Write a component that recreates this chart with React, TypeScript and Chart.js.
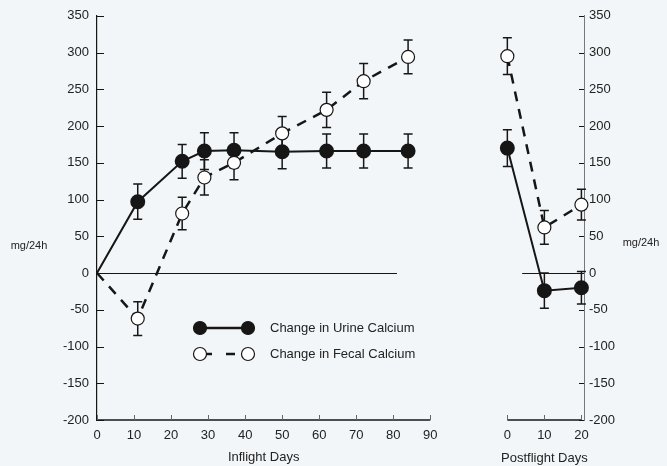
import React, { useEffect, useRef } from "react";
import { Chart, registerables } from "chart.js";

Chart.register(...registerables);

// ---- data ----
const INFLIGHT_DAYS = [0, 11, 23, 29, 37, 50, 62, 72, 84];
const URINE_INFLIGHT = [0, 97, 152, 166, 167, 165, 166, 166, 166];
const URINE_INFLIGHT_ERR = [0, 24, 23, 25, 24, 23, 23, 23, 23];
const FECAL_INFLIGHT = [0, -62, 81, 130, 150, 190, 222, 261, 294];
const FECAL_INFLIGHT_ERR = [0, 23, 22, 24, 23, 23, 24, 24, 23];

const POSTFLIGHT_DAYS = [0, 10, 20];
const URINE_POSTFLIGHT = [170, -24, -20];
const URINE_POSTFLIGHT_ERR = [25, 24, 22];
const FECAL_POSTFLIGHT = [295, 62, 93];
const FECAL_POSTFLIGHT_ERR = [25, 23, 21];

const INFLIGHT_TICKS = [0, 10, 20, 30, 40, 50, 60, 70, 80, 90];
const POSTFLIGHT_TICKS = [0, 10, 20];
const Y_MIN = -200;
const Y_MAX = 350;
const Y_STEP = 50;

const ZERO_LINE_INFLIGHT = [0, 81];
const ZERO_LINE_POSTFLIGHT = [4, 20];

const LEGEND_LABELS = ["Change in Urine Calcium", "Change in Fecal Calcium"];
const X_TITLES = ["Inflight Days", "Postflight Days"];
const Y_TITLE = "mg/24h";

// ---- layout constants ----
const W = 667;
const H = 466;
const POST_OFFSET = 110.8;
const X_MAX = 131.5;
const INK = "#161616";
const TEXT = "#222222";
const BG = "#f3f6f8";
const FONT = "'Liberation Sans', Arial, Helvetica, sans-serif";

const pts = (xs: number[], ys: number[], off = 0) =>
  xs.map((d, i) => ({ x: d + off, y: ys[i] }));

const decorPlugin = {
  id: "decor",
  beforeDatasetsDraw(chart: any) {
    const ctx = chart.ctx;
    const xs = chart.scales.x;
    const ys = chart.scales.y;
    const { left, right, bottom } = chart.chartArea;
    ctx.save();
    ctx.strokeStyle = INK;
    ctx.lineCap = "butt";

    // zero reference lines
    ctx.lineWidth = 1;
    const y0 = Math.round(ys.getPixelForValue(0)) + 0.5;
    const segs = [
      [ZERO_LINE_INFLIGHT[0], ZERO_LINE_INFLIGHT[1]],
      [POST_OFFSET + ZERO_LINE_POSTFLIGHT[0], POST_OFFSET + ZERO_LINE_POSTFLIGHT[1]],
    ];
    segs.forEach(([a, b]) => {
      ctx.beginPath();
      ctx.moveTo(xs.getPixelForValue(a), y0);
      ctx.lineTo(xs.getPixelForValue(b), y0);
      ctx.stroke();
    });

    // bottom axis segments
    ctx.lineWidth = 1.5;
    const axSegs = [
      [INFLIGHT_TICKS[0], INFLIGHT_TICKS[INFLIGHT_TICKS.length - 1]],
      [POST_OFFSET + POSTFLIGHT_TICKS[0], POST_OFFSET + POSTFLIGHT_TICKS[POSTFLIGHT_TICKS.length - 1]],
    ];
    axSegs.forEach(([a, b]) => {
      ctx.beginPath();
      ctx.moveTo(xs.getPixelForValue(a), bottom);
      ctx.lineTo(xs.getPixelForValue(b), bottom);
      ctx.stroke();
    });
    // x tick marks (inward)
    ctx.lineWidth = 1;
    ctx.strokeStyle = "#666";
    const xt = [...INFLIGHT_TICKS, ...POSTFLIGHT_TICKS.map((d) => d + POST_OFFSET)];
    xt.forEach((v) => {
      const px = Math.round(xs.getPixelForValue(v)) + 0.5;
      ctx.beginPath();
      ctx.moveTo(px, bottom);
      ctx.lineTo(px, bottom - 5);
      ctx.stroke();
    });

    // y tick marks
    ctx.strokeStyle = INK;
    for (let v = Y_MIN; v <= Y_MAX; v += Y_STEP) {
      const py = Math.round(ys.getPixelForValue(v)) + 0.5;
      ctx.beginPath();
      ctx.moveTo(left, py);
      ctx.lineTo(left + 7, py);
      ctx.stroke();
      ctx.beginPath();
      ctx.moveTo(right - 5, py);
      ctx.lineTo(right, py);
      ctx.stroke();
    }

    // error bars
    ctx.lineWidth = 1.5;
    ctx.strokeStyle = INK;
    chart.data.datasets.forEach((ds: any, di: number) => {
      const meta = chart.getDatasetMeta(di);
      const errs: number[] = ds.errors || [];
      meta.data.forEach((el: any, i: number) => {
        const e = errs[i];
        if (!e) return;
        const v = ds.data[i].y;
        const yt = ys.getPixelForValue(v + e);
        const yb = ys.getPixelForValue(v - e);
        const px = el.x;
        ctx.beginPath();
        ctx.moveTo(px, yt);
        ctx.lineTo(px, yb);
        ctx.moveTo(px - 4.5, yt);
        ctx.lineTo(px + 4.5, yt);
        ctx.moveTo(px - 4.5, yb);
        ctx.lineTo(px + 4.5, yb);
        ctx.stroke();
      });
    });
    ctx.restore();
  },
  afterDraw(chart: any) {
    const ctx = chart.ctx;
    const xs = chart.scales.x;
    ctx.save();
    // legend
    const rows = [
      { y: 328, dash: [] as number[], fill: INK },
      { y: 354, dash: [9, 14], fill: "#ffffff" },
    ];
    rows.forEach((r, i) => {
      ctx.strokeStyle = INK;
      ctx.lineWidth = 2.5;
      ctx.setLineDash(r.dash);
      ctx.beginPath();
      ctx.moveTo(203, r.y);
      ctx.lineTo(246, r.y);
      ctx.stroke();
      ctx.setLineDash([]);
      [200, 248].forEach((cx) => {
        ctx.beginPath();
        ctx.arc(cx, r.y, 6.5, 0, Math.PI * 2);
        ctx.fillStyle = r.fill;
        ctx.fill();
        ctx.lineWidth = 1.2;
        ctx.stroke();
      });
      ctx.fillStyle = TEXT;
      ctx.font = `13px ${FONT}`;
      ctx.textAlign = "left";
      ctx.textBaseline = "middle";
      ctx.fillText(LEGEND_LABELS[i], 270, r.y);
    });
    // x titles
    ctx.font = `13px ${FONT}`;
    ctx.textAlign = "center";
    ctx.fillText(X_TITLES[0], xs.getPixelForValue((INFLIGHT_TICKS[0] + INFLIGHT_TICKS[INFLIGHT_TICKS.length - 1]) / 2), 457);
    ctx.fillText(X_TITLES[1], xs.getPixelForValue(POST_OFFSET + (POSTFLIGHT_TICKS[0] + POSTFLIGHT_TICKS[POSTFLIGHT_TICKS.length - 1]) / 2), 458);
    // y titles
    ctx.font = `11px ${FONT}`;
    ctx.fillText(Y_TITLE, 29, 246);
    ctx.fillText(Y_TITLE, 641, 243);
    ctx.restore();
  },
};

export default function App() {
  const ref = useRef<HTMLCanvasElement | null>(null);
  useEffect(() => {
    if (!ref.current) return;
    const noFirst = (c: any) => (c.dataIndex === 0 ? 0 : 6.5);
    const chart = new Chart(ref.current, {
      type: "scatter",
      data: {
        datasets: [
          {
            label: LEGEND_LABELS[1],
            data: pts(INFLIGHT_DAYS, FECAL_INFLIGHT),
            errors: FECAL_INFLIGHT_ERR,
            showLine: true,
            clip: false,
            borderColor: INK,
            borderWidth: 2.5,
            borderDash: [10, 8],
            pointRadius: noFirst,
            pointBackgroundColor: "#ffffff",
            pointBorderColor: INK,
            pointBorderWidth: 1.2,
          } as any,
          {
            label: LEGEND_LABELS[1],
            data: pts(POSTFLIGHT_DAYS, FECAL_POSTFLIGHT, POST_OFFSET),
            errors: FECAL_POSTFLIGHT_ERR,
            showLine: true,
            clip: false,
            borderColor: INK,
            borderWidth: 2.5,
            borderDash: [10, 8],
            pointRadius: 6.5,
            pointBackgroundColor: "#ffffff",
            pointBorderColor: INK,
            pointBorderWidth: 1.2,
          } as any,
          {
            label: LEGEND_LABELS[0],
            data: pts(INFLIGHT_DAYS, URINE_INFLIGHT),
            errors: URINE_INFLIGHT_ERR,
            showLine: true,
            clip: false,
            borderColor: INK,
            borderWidth: 2,
            pointRadius: noFirst,
            pointBackgroundColor: INK,
            pointBorderColor: INK,
          } as any,
          {
            label: LEGEND_LABELS[0],
            data: pts(POSTFLIGHT_DAYS, URINE_POSTFLIGHT, POST_OFFSET),
            errors: URINE_POSTFLIGHT_ERR,
            showLine: true,
            clip: false,
            borderColor: INK,
            borderWidth: 2,
            pointRadius: 6.5,
            pointBackgroundColor: INK,
            pointBorderColor: INK,
          } as any,
        ],
      },
      options: {
        responsive: false,
        animation: false,
        devicePixelRatio: 1,
        layout: { padding: { top: 10, left: 0, right: 0, bottom: 0 } },
        plugins: { legend: { display: false }, tooltip: { enabled: false } },
        scales: {
          x: {
            type: "linear",
            min: 0,
            max: X_MAX,
            grid: { display: false, drawTicks: false },
            border: { display: false },
            afterBuildTicks: (s: any) => {
              s.ticks = [
                ...INFLIGHT_TICKS.map((v) => ({ value: v })),
                ...POSTFLIGHT_TICKS.map((v) => ({ value: v + POST_OFFSET })),
              ];
            },
            afterFit: (s: any) => {
              s.height = 46;
            },
            ticks: {
              autoSkip: false,
              maxRotation: 0,
              padding: 8,
              color: TEXT,
              font: { family: FONT, size: 13 },
              callback: (v: any) => {
                const n = Number(v);
                return n > INFLIGHT_TICKS[INFLIGHT_TICKS.length - 1] + 1
                  ? String(Math.round(n - POST_OFFSET))
                  : String(Math.round(n));
              },
            },
          },
          y: {
            type: "linear",
            position: "left",
            min: Y_MIN,
            max: Y_MAX,
            grid: { display: false, drawTicks: false },
            border: { display: true, color: INK, width: 1.2 },
            afterFit: (s: any) => {
              s.width = 97;
            },
            ticks: {
              stepSize: Y_STEP,
              padding: 8,
              color: TEXT,
              font: { family: FONT, size: 13 },
            },
          },
          y2: {
            type: "linear",
            position: "right",
            min: Y_MIN,
            max: Y_MAX,
            grid: { display: false, drawTicks: false },
            border: { display: true, color: "#777", width: 1, dash: [2, 2] },
            afterFit: (s: any) => {
              s.width = W - 584;
            },
            ticks: {
              stepSize: Y_STEP,
              padding: 5,
              color: TEXT,
              font: { family: FONT, size: 13 },
            },
          },
        },
      } as any,
      plugins: [decorPlugin],
    });
    return () => chart.destroy();
  }, []);

  return (
    <div
      style={{
        position: "absolute",
        left: 0,
        top: 0,
        width: W,
        height: H,
        background: BG,
      }}
    >
      <canvas ref={ref} width={W} height={H} style={{ display: "block" }} />
    </div>
  );
}
